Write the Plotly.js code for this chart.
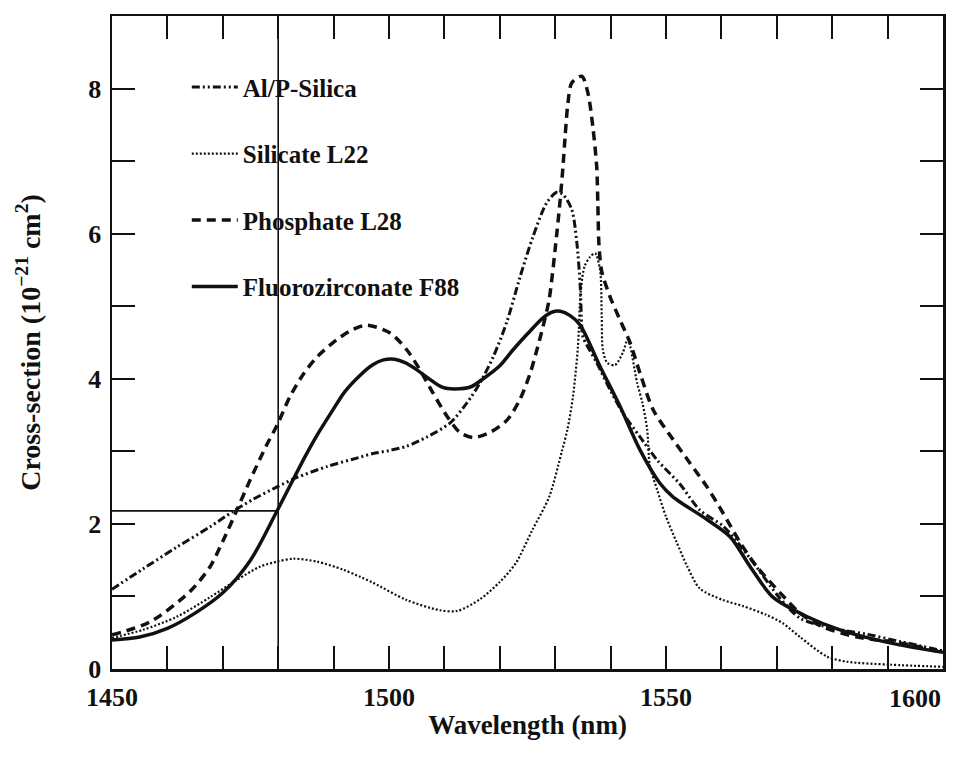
<!DOCTYPE html>
<html>
<head>
<meta charset="utf-8">
<script src="https://cdn.plot.ly/plotly-3.0.1.min.js"></script>
<style>
  html, body { margin: 0; padding: 0; background: #fff; }
  #chart { width: 956px; height: 761px; }
</style>
</head>
<body>
<div id="chart"></div>
<script>
// ---- Data ----
const seriesNames = ["Al/P-Silica", "Silicate L22", "Phosphate L28", "Fluorozirconate F88"];

const wavelengthAlP = [1450, 1455.6, 1461.7, 1467.7, 1471.8, 1475.5, 1479.8, 1483.4, 1488.8, 1494.8, 1497.1, 1500.0, 1503.2, 1506.9, 1511.0, 1514.1, 1516.4, 1518.8, 1521.3, 1523.6, 1526.0, 1528.5, 1530.3, 1531.4, 1533.0, 1533.9, 1534.5, 1534.8, 1535.0, 1537.5, 1539.9, 1542.2, 1545.3, 1548.4, 1552.5, 1556.1, 1560.3, 1563.4, 1566.4, 1570.3, 1574.2, 1580.2, 1586.2, 1592.2, 1600];
const crossAlP = [1.10, 1.38, 1.68, 1.96, 2.17, 2.34, 2.51, 2.64, 2.79, 2.92, 2.97, 3.01, 3.07, 3.20, 3.39, 3.67, 3.94, 4.30, 4.79, 5.39, 5.96, 6.43, 6.57, 6.54, 6.33, 5.88, 5.30, 4.72, 4.58, 4.22, 3.85, 3.53, 3.20, 2.88, 2.55, 2.19, 1.97, 1.70, 1.40, 1.00, 0.70, 0.56, 0.48, 0.38, 0.25];

const wavelengthSilicate = [1450, 1455.6, 1461.7, 1467.7, 1472.6, 1476.7, 1479.8, 1482.7, 1487.0, 1491.7, 1494.8, 1497.1, 1503.2, 1509.2, 1512.3, 1516.4, 1520.0, 1522.9, 1525.9, 1528.9, 1531.2, 1532.2, 1533.2, 1534.1, 1534.6, 1535.3, 1536.3, 1537.2, 1538.1, 1538.4, 1538.6, 1539.4, 1540.8, 1542.2, 1543.1, 1544.8, 1545.8, 1546.6, 1547.1, 1548.4, 1550.0, 1551.9, 1553.8, 1556.1, 1560.3, 1563.8, 1568.0, 1571.1, 1574.2, 1579.1, 1582.7, 1590.4, 1600];
const crossSilicate = [0.43, 0.54, 0.72, 0.99, 1.23, 1.41, 1.48, 1.52, 1.48, 1.37, 1.27, 1.19, 0.95, 0.81, 0.80, 0.96, 1.20, 1.46, 1.92, 2.37, 3.00, 3.30, 3.75, 4.44, 5.20, 5.55, 5.68, 5.73, 5.50, 4.86, 4.40, 4.22, 4.19, 4.36, 4.54, 3.94, 3.65, 3.30, 2.80, 2.47, 2.10, 1.75, 1.42, 1.11, 0.95, 0.87, 0.75, 0.63, 0.44, 0.17, 0.10, 0.06, 0.03];

const wavelengthPhosphate = [1450, 1456.9, 1464.1, 1467.7, 1470.0, 1472.6, 1474.9, 1478.0, 1479.8, 1482.1, 1484.5, 1487.0, 1490.6, 1493.5, 1496.0, 1500.2, 1503.2, 1505.6, 1507.9, 1510.5, 1512.8, 1515.2, 1518.2, 1521.3, 1523.6, 1525.5, 1526.7, 1527.8, 1528.9, 1530.3, 1530.9, 1531.4, 1531.8, 1532.3, 1533.0, 1534.8, 1535.9, 1536.8, 1537.5, 1537.7, 1537.9, 1538.4, 1539.9, 1541.7, 1543.5, 1545.3, 1547.7, 1551.3, 1554.3, 1557.4, 1560.3, 1563.4, 1566.4, 1570.6, 1574.2, 1578.3, 1584.5, 1592.2, 1600];
const crossPhosphate = [0.47, 0.65, 1.07, 1.41, 1.76, 2.20, 2.60, 3.10, 3.36, 3.75, 4.06, 4.30, 4.54, 4.68, 4.74, 4.63, 4.40, 4.12, 3.81, 3.48, 3.26, 3.19, 3.26, 3.43, 3.71, 4.08, 4.40, 4.72, 5.09, 6.01, 6.47, 6.92, 7.35, 7.80, 8.08, 8.17, 7.94, 7.47, 6.91, 6.40, 5.85, 5.48, 5.13, 4.81, 4.50, 4.08, 3.57, 3.16, 2.84, 2.51, 2.15, 1.74, 1.41, 1.05, 0.77, 0.58, 0.44, 0.36, 0.23];

const wavelengthFluoro = [1450, 1455, 1460, 1465, 1470, 1475, 1479.6, 1484.8, 1487.0, 1489.7, 1492.0, 1494.8, 1497.0, 1499.0, 1501.0, 1503.0, 1504.7, 1509.7, 1511.9, 1514.8, 1517.0, 1520.0, 1522.4, 1525.0, 1527.8, 1529.5, 1530.9, 1532.7, 1534.5, 1538.1, 1541.7, 1545.3, 1548.9, 1551.3, 1557.4, 1561.6, 1565.2, 1569.3, 1575.5, 1581.4, 1590.4, 1600];
const crossFluoro = [0.40, 0.44, 0.56, 0.77, 1.05, 1.50, 2.15, 2.92, 3.22, 3.55, 3.82, 4.05, 4.19, 4.26, 4.27, 4.22, 4.14, 3.88, 3.86, 3.89, 4.00, 4.18, 4.40, 4.62, 4.84, 4.92, 4.93, 4.87, 4.74, 4.17, 3.62, 3.02, 2.56, 2.37, 2.06, 1.82, 1.41, 0.99, 0.72, 0.54, 0.36, 0.23];

// Reference marker lines (1480 nm guide and its cross-section level)
const guideWavelength = 1480;
const guideCross = 2.18;

// Axis ticks (labelled major ticks; unlabelled minor ticks every 10 nm / 1 unit)
const xTickVals = [1450, 1500, 1550];
const xTickText = ["1450", "1500", "1550"];
const xEdgeLabel = "1600";
const xMinorStep = 10;
const yTickVals = [0, 2, 4, 6, 8];
const yTickText = ["0", "2", "4", "6", "8"];
const yMinorStep = 1;

// ---- Chart ----
const FONT = "Liberation Serif, 'Times New Roman', Times, serif";
const INK = "#111";

const traces = [
  { x: wavelengthAlP, y: crossAlP, name: seriesNames[0], legendgroup: "a",
    line: { color: INK, width: 3, dash: "8px,3px,2px,3px,2px,3px", shape: "spline", smoothing: 0.8 } },
  { x: wavelengthSilicate, y: crossSilicate, name: seriesNames[1], legendgroup: "b",
    line: { color: INK, width: 2.2, dash: "2px,2px", shape: "spline", smoothing: 0.8 } },
  { x: wavelengthPhosphate, y: crossPhosphate, name: seriesNames[2], legendgroup: "c",
    line: { color: INK, width: 3.5, dash: "9px,6px", shape: "spline", smoothing: 0.8 } },
  { x: wavelengthFluoro, y: crossFluoro, name: seriesNames[3], legendgroup: "d",
    line: { color: INK, width: 3.5, shape: "spline", smoothing: 0.8 } }
].map(t => Object.assign({ type: "scatter", mode: "lines", hoverinfo: "x+y+name" }, t));

const tickStyle = { ticks: "inside", ticklen: 23, tickwidth: 2, tickcolor: INK };

const layout = {
  width: 956, height: 761,
  margin: { l: 112, r: 13, t: 16, b: 92 },
  paper_bgcolor: "#fff", plot_bgcolor: "#fff",
  font: { family: FONT, color: INK, size: 26, weight: "bold" },
  showlegend: true,
  legend: {
    x: 0.090, y: 0.926, xanchor: "left", yanchor: "top",
    bgcolor: "rgba(0,0,0,0)", borderwidth: 0,
    traceorder: "grouped", tracegroupgap: 31,
    font: { family: FONT, size: 25, color: INK, weight: "bold" },
    itemwidth: 46
  },
  xaxis: Object.assign({
    range: [1450, 1600], fixedrange: true,
    tickmode: "array", tickvals: xTickVals, ticktext: xTickText,
    minor: Object.assign({ tick0: 1450, dtick: xMinorStep, showgrid: false }, tickStyle),
    showline: true, linecolor: INK, linewidth: 2.5, mirror: "ticks",
    showgrid: false, zeroline: false,
    ticklabelstandoff: 3,
    tickfont: { family: FONT, size: 26, color: INK, weight: "bold" },
    title: { text: "Wavelength (nm)", standoff: 5,
             font: { family: FONT, size: 27, color: INK, weight: "bold" } }
  }, tickStyle),
  yaxis: Object.assign({
    range: [0, 9], fixedrange: true,
    tickmode: "array", tickvals: yTickVals, ticktext: yTickText,
    minor: Object.assign({ tick0: 0, dtick: yMinorStep, showgrid: false }, tickStyle),
    showline: true, linecolor: INK, linewidth: 2.5, mirror: "ticks",
    showgrid: false, zeroline: false,
    ticklabelstandoff: 3,
    tickfont: { family: FONT, size: 26, color: INK, weight: "bold" },
    title: { text: "Cross-section (10<sup>−21</sup> cm<sup>2</sup>)", standoff: 40,
             font: { family: FONT, size: 28, color: INK, weight: "bold" } }
  }, tickStyle),
  shapes: [
    { type: "line", xref: "x", yref: "paper", x0: guideWavelength, x1: guideWavelength, y0: 0, y1: 1,
      line: { color: INK, width: 1.6 } },
    { type: "line", xref: "x", yref: "y", x0: 1450, x1: guideWavelength, y0: guideCross, y1: guideCross,
      line: { color: INK, width: 1.6 } }
  ],
  annotations: [
    { text: xEdgeLabel, xref: "x", yref: "paper", x: 1600, y: 0, xanchor: "right", yanchor: "top",
      yshift: -13, showarrow: false,
      font: { family: FONT, size: 26, color: INK, weight: "bold" } }
  ]
};

Plotly.newPlot("chart", traces, layout, { displayModeBar: false, staticPlot: true });
</script>
</body>
</html>
